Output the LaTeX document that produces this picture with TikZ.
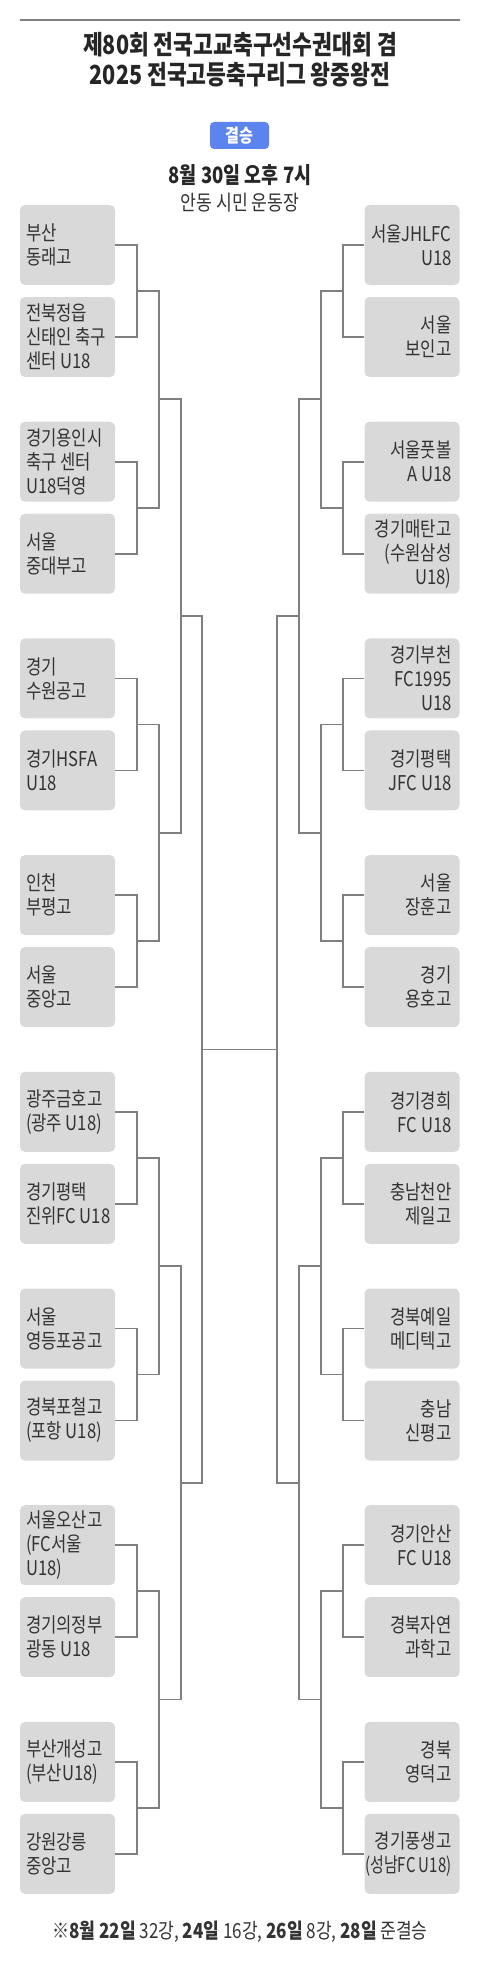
\documentclass[tikz,border=0pt]{standalone}
\usepackage{fontspec}
\setmainfont{Noto Sans CJK KR}[FakeStretch=0.82]
\definecolor{boxgray}{HTML}{D9D9D9}
\definecolor{linegray}{HTML}{808080}
\definecolor{badgeblue}{HTML}{5B84F0}
\definecolor{txt}{HTML}{333333}
\tikzset{
  box/.style={draw=none, fill=boxgray, rounded corners=5pt, minimum width=95pt, minimum height=80pt, inner sep=0pt},
  ltext/.style={anchor=west, inner xsep=6pt, inner ysep=0pt, align=left, text=txt, font=\fontsize{20.3}{24}\selectfont},
  rtext/.style={anchor=east, inner xsep=8pt, inner ysep=0pt, align=right, text=txt, font=\fontsize{20.3}{24}\selectfont},
  conn/.style={draw=linegray, line width=1.8pt},
}
\begin{document}
\begin{tikzpicture}[x=1pt,y=-1pt]
\useasboundingbox (0,0) rectangle (480,1980);
% header
\coordinate (topL) at (20,20);
\coordinate (topR) at (460,20);
\draw[draw=linegray, line width=1.5pt] (topL) -- (topR);
\node[font=\fontsize{26.3}{30}\selectfont\bfseries, text=black!85] (t1) at (240,45) {제80회 전국고교축구선수권대회 겸};
\node[font=\fontsize{26.3}{30}\selectfont\bfseries, text=black!85] (t2) at (240,75) {2025 전국고등축구리그 왕중왕전};
\node[fill=badgeblue, rounded corners=4pt, minimum width=59pt, minimum height=27pt, inner sep=0pt, text=white, font=\fontsize{18.5}{20}\selectfont\bfseries] (badge) at (239.5,135.5) {결승};
\node[font=\fontsize{22.5}{24}\selectfont\bfseries, text=black!85] (date) at (240,175) {8월 30일 오후 7시};
\node[font=\fontsize{21}{24}\selectfont, text=txt] (venue) at (240,203) {안동 시민 운동장};
% left boxes
\node[box] (L1) at (67.5,245) {};   \node[ltext] at (L1.west) {부산\\동래고};
\node[box] (L2) at (67.5,337) {};   \node[ltext] at (L2.west) {전북정읍\\신태인 축구\\센터 U18};
\node[box] (L3) at (67.5,461.7) {}; \node[ltext] at (L3.west) {경기용인시\\축구 센터\\U18덕영};
\node[box] (L4) at (67.5,553.7) {}; \node[ltext] at (L4.west) {서울\\중대부고};
\node[box] (L5) at (67.5,678.4) {}; \node[ltext] at (L5.west) {경기\\수원공고};
\node[box] (L6) at (67.5,770.4) {}; \node[ltext] at (L6.west) {경기HSFA\\U18};
\node[box] (L7) at (67.5,895.1) {}; \node[ltext] at (L7.west) {인천\\부평고};
\node[box] (L8) at (67.5,987.1) {}; \node[ltext] at (L8.west) {서울\\중앙고};
\node[box] (L9) at (67.5,1111.8) {};  \node[ltext] at (L9.west) {광주금호고\\(광주 U18)};
\node[box] (L10) at (67.5,1203.8) {}; \node[ltext] at (L10.west) {경기평택\\진위FC U18};
\node[box] (L11) at (67.5,1328.5) {}; \node[ltext] at (L11.west) {서울\\영등포공고};
\node[box] (L12) at (67.5,1420.5) {}; \node[ltext] at (L12.west) {경북포철고\\(포항 U18)};
\node[box] (L13) at (67.5,1545.2) {}; \node[ltext] at (L13.west) {서울오산고\\(FC서울\\U18)};
\node[box] (L14) at (67.5,1637.2) {}; \node[ltext] at (L14.west) {경기의정부\\광동 U18};
\node[box] (L15) at (67.5,1761.9) {}; \node[ltext] at (L15.west) {부산개성고\\(부산U18)};
\node[box] (L16) at (67.5,1853.9) {}; \node[ltext] at (L16.west) {강원강릉\\중앙고};
% right boxes
\node[box] (R1) at (412,245) {};   \node[rtext] at (R1.east) {서울JHLFC\\U18};
\node[box] (R2) at (412,337) {};   \node[rtext] at (R2.east) {서울\\보인고};
\node[box] (R3) at (412,461.7) {}; \node[rtext] at (R3.east) {서울풋볼\\A U18};
\node[box] (R4) at (412,553.7) {}; \node[rtext] at (R4.east) {경기매탄고\\(수원삼성\\U18)};
\node[box] (R5) at (412,678.4) {}; \node[rtext] at (R5.east) {경기부천\\FC1995\\U18};
\node[box] (R6) at (412,770.4) {}; \node[rtext] at (R6.east) {경기평택\\JFC U18};
\node[box] (R7) at (412,895.1) {}; \node[rtext] at (R7.east) {서울\\장훈고};
\node[box] (R8) at (412,987.1) {}; \node[rtext] at (R8.east) {경기\\용호고};
\node[box] (R9) at (412,1111.8) {};  \node[rtext] at (R9.east) {경기경희\\FC U18};
\node[box] (R10) at (412,1203.8) {}; \node[rtext] at (R10.east) {충남천안\\제일고};
\node[box] (R11) at (412,1328.5) {}; \node[rtext] at (R11.east) {경북예일\\메디텍고};
\node[box] (R12) at (412,1420.5) {}; \node[rtext] at (R12.east) {충남\\신평고};
\node[box] (R13) at (412,1545.2) {}; \node[rtext] at (R13.east) {경기안산\\FC U18};
\node[box] (R14) at (412,1637.2) {}; \node[rtext] at (R14.east) {경북자연\\과학고};
\node[box] (R15) at (412,1761.9) {}; \node[rtext] at (R15.east) {경북\\영덕고};
\node[box] (R16) at (412,1853.9) {}; \node[rtext] at (R16.east) {경기풍생고\\\scalebox{0.9}[1]{(성남FC U18)}};
% junction coordinates
\foreach \k/\m in {1/291,2/507.7,3/724.4,4/941.1,5/1157.8,6/1374.5,7/1591.2,8/1807.9}{
  \coordinate (LA\k) at (137,\m);
  \coordinate (RA\k) at (343,\m);
}
\foreach \k/\m in {1/399.35,2/832.75,3/1266.15,4/1699.55}{
  \coordinate (LB\k) at (159,\m);
  \coordinate (RB\k) at (321,\m);
}
\foreach \k/\m in {1/616.05,2/1482.85}{
  \coordinate (LC\k) at (181,\m);
  \coordinate (RC\k) at (299,\m);
}
\coordinate (LD) at (202,1049.45);
\coordinate (RD) at (277,1049.45);
% level 1
\foreach \k in {1,...,8}{
  \pgfmathtruncatemacro\a{2*\k-1}
  \pgfmathtruncatemacro\b{2*\k}
  \draw[conn] (L\a.east) -| (LA\k) |- (L\b.east);
  \draw[conn] (R\a.west) -| (RA\k) |- (R\b.west);
}
% level 2
\foreach \k in {1,...,4}{
  \pgfmathtruncatemacro\a{2*\k-1}
  \pgfmathtruncatemacro\b{2*\k}
  \draw[conn] (LA\a) -| (LB\k) |- (LA\b);
  \draw[conn] (RA\a) -| (RB\k) |- (RA\b);
}
% level 3
\foreach \k in {1,2}{
  \pgfmathtruncatemacro\a{2*\k-1}
  \pgfmathtruncatemacro\b{2*\k}
  \draw[conn] (LB\a) -| (LC\k) |- (LB\b);
  \draw[conn] (RB\a) -| (RC\k) |- (RB\b);
}
% level 4 and final
\draw[conn] (LC1) -| (LD) |- (LC2);
\draw[conn] (RC1) -| (RD) |- (RC2);
\draw[conn] (LD) -- (RD);
% footer
\node[font=\fontsize{20.8}{24}\selectfont, text=txt] (foot) at (240,1932) {※\textbf{8월 22일} 32강, \textbf{24일} 16강, \textbf{26일} 8강, \textbf{28일} 준결승};
\end{tikzpicture}
\end{document}
